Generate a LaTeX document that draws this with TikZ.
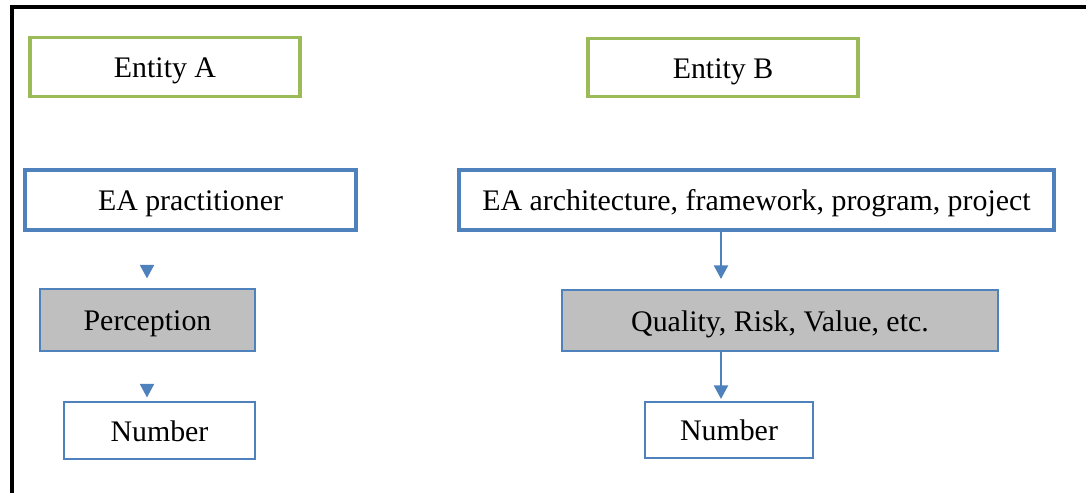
\documentclass[tikz,border=0pt]{standalone}
\usepackage{fontspec}
\setmainfont{Liberation Serif}
\usetikzlibrary{arrows.meta}

\definecolor{entgreen}{HTML}{9BBB59}
\definecolor{eablue}{HTML}{4F81BD}
\definecolor{measgray}{HTML}{BFBFBF}

\begin{document}
\begin{tikzpicture}
[
	x=0.02cm, y=-0.02cm,
	font=\fontsize{17}{20}\selectfont,
	every node/.style={text height=13.5pt,text depth=1pt},
	entitybox/.style={draw=entgreen,line width=1.8pt,minimum width=5.4cm,minimum height=1.17cm},
	mainbox/.style={draw=eablue,line width=1.9pt,minimum height=1.2cm},
	measurebox/.style={draw=eablue,fill=measgray,line width=0.9pt,minimum height=1.23cm},
	numbox/.style={draw=eablue,line width=0.9pt,minimum height=1.13cm},
	flow/.style={draw=eablue,line width=1.1pt,-{Triangle[length=0.27cm,width=0.28cm]}}
]

	\useasboundingbox (0,0) rectangle (1086,493);

	% frame
	\draw[line width=1.8pt] (12,493) -- (12,7) -- (1086,7);

	% entities
	\node[entitybox] (entA) at (165,67) {Entity A};
	\node[entitybox] (entB) at (723,67.5) {Entity B};

	% left column
	\node[mainbox,minimum width=6.62cm] (prac) at (190.5,200) {EA practitioner};
	\node[measurebox,minimum width=4.3cm] (percA) at (147.5,320) {Perception};
	\node[numbox,minimum width=3.82cm] (numA) at (159.5,430.5) {Number};

	% right column
	\node[mainbox,minimum width=11.9cm] (arch) at (756.5,200) {EA architecture, framework, program, project};
	\node[measurebox,minimum width=8.72cm] (qual) at (780,320.5) {Quality, Risk, Value, etc.};
	\node[numbox,minimum width=3.36cm] (numB) at (729,430) {Number};

	% arrows
	\draw[flow,shorten <=0.68cm,shorten >=0.2cm] (prac.south -| 147,0) -- (percA.north -| 147,0);
	\draw[flow,shorten <=0.72cm,shorten >=0.08cm] (percA.south -| 147,0) -- (numA.north -| 147,0);
	\draw[flow,shorten >=0.2cm] (arch.south -| 721,0) -- (qual.north -| 721,0);
	\draw[flow,shorten >=0.04cm] (qual.south -| 721,0) -- (numB.north -| 721,0);

\end{tikzpicture}
\end{document}
